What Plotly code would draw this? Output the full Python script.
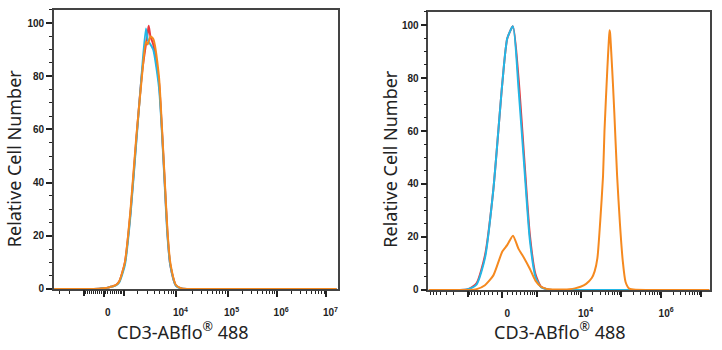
import numpy as np
import plotly.graph_objects as go

# ---------------- data (fluorescence intensity, relative count) ----------------
L_X = [-3800, -1100, -217, 0, 189, 325, 464, 606, 755, 1074, 1436, 1862, 2375, 2804,
       3004, 3141, 3378, 3792, 4789, 5388, 6063, 6829, 7698, 9809, 12539, 20000,
       100000, 1000000, 16000000]
L_RED = [0, 0, 0.1, 0.3, 0.5, 0.8, 1.1, 1.6, 2.8, 10, 29, 56, 81, 92,
         96, 99, 95, 92, 78, 61, 41, 21, 9, 1.3, 0.2, 0, 0, 0, 0]
L_CYAN = [0, 0, 0.1, 0.3, 0.5, 0.8, 1.0, 1.4, 2.4, 9, 28, 55, 82, 98,
          94, 93, 92, 90, 76, 60, 40, 20, 9, 1.2, 0.2, 0, 0, 0, 0]
L_ORANGE = [0, 0, 0.1, 0.3, 0.5, 0.8, 1.1, 1.6, 2.8, 10, 30, 57, 80, 93,
            92, 93, 95, 94, 80, 62, 42, 22, 10, 1.5, 0.2, 0, 0, 0, 0]

R_X = [-7700, -1500, -977, -628, -378, -183, 0, 101, 220, 350, 503, 688, 922, 1229,
       1635, 2184, 2933, 3953, 5360, 7300, 9972, 13669, 18773, 22070, 25824, 30350,
       35600, 38640, 45360, 49100, 51550, 53230, 57750, 62600, 67800, 79720, 93640,
       110130, 129400, 160000, 1000000, 16000000]
R_RED = [0, 0, 0.3, 2.5, 13, 38, 78, 95, 99.5, 80, 50, 21, 6, 1.2,
         0.3, 0, 0, 0, 0, 0, 0, 0, 0, 0, 0, 0,
         0, 0, 0, 0, 0, 0, 0, 0, 0, 0, 0,
         0, 0, 0, 0, 0]
R_CYAN = [0, 0, 0.3, 2, 12, 38, 78, 95, 99.5, 76, 47, 19, 5, 1,
          0.3, 0, 0, 0, 0, 0, 0, 0, 0, 0, 0, 0,
          0, 0, 0, 0, 0, 0, 0, 0, 0, 0, 0,
          0, 0, 0, 0, 0]
R_ORANGE = [0, 0, 0, 0.3, 1.8, 5.5, 14.5, 17, 20.5, 15.5, 12, 8, 3.5, 1.2,
            0.4, 0.2, 0.2, 0.2, 0.3, 0.6, 1.2, 2.3, 4.5, 7, 12, 26,
            43, 60, 83, 93, 98, 97, 88, 78, 67, 43, 25,
            11, 3, 0.5, 0, 0]

Y_TICKS = [0, 20, 40, 60, 80, 100]
L_LABEL_VALS = [0, 10000, 100000, 1000000, 10000000]
L_LABEL_TEXT = ["0", "10<sup>4</sup>", "10<sup>5</sup>", "10<sup>6</sup>", "10<sup>7</sup>"]
L_MAJOR_UNLABELED = [-1000, 1000]
R_LABEL_VALS = [0, 10000, 1000000]
R_LABEL_TEXT = ["0", "10<sup>4</sup>", "10<sup>6</sup>"]
R_MAJOR_UNLABELED = [-1000, 1000, 100000, 10000000]

X_TITLE = "CD3-ABflo<sup>®</sup> 488"
Y_TITLE = "Relative Cell Number"

RED, CYAN, ORANGE = "#e8383d", "#22b7e6", "#f5891f"


# ---------------- logicle scale ----------------
def make_logicle(T, W, M, A):
    ln10 = np.log(10.0)
    w = W / (M + A)
    x2 = A / (M + A)
    x1 = x2 + w
    x0 = x2 + 2 * w
    b = (M + A) * ln10
    lo, hi = 1e-9, b
    for _ in range(200):
        mid = 0.5 * (lo + hi)
        val = 2 * (np.log(mid) - np.log(b)) + w * (b + mid)
        if val > 0:
            hi = mid
        else:
            lo = mid
    d = 0.5 * (lo + hi)
    ca = np.exp(x0 * (b + d))
    mfa = np.exp(b * x1) - ca * np.exp(-d * x1)
    a = T / (np.exp(b) - mfa - ca * np.exp(-d))
    c = ca * a
    f = -mfa * a

    def S(y):
        y = np.asarray(y, float)
        yy = np.where(y >= x1, y, 2 * x1 - y)
        s = a * np.exp(b * yy) - c * np.exp(-d * yy) + f
        return np.where(y >= x1, s, -s)

    grid = np.linspace(-0.05, 1.05, 40001)
    vals = S(grid)

    def fwd(x):
        return np.interp(np.asarray(x, float), vals, grid)
    return fwd


TOP = 16777216
fL = make_logicle(TOP, 0.5, 5.24, 0.51)
fR = make_logicle(TOP, 0.5, 5.70, 1.35)


def minor_vals():
    v = []
    for e in [2, 3, 4, 5, 6]:
        for m in range(2, 10) if e >= 3 else range(1, 10):
            v.append(m * 10 ** e)
    neg = [-m * 10 ** e for e in [2, 3] for m in (range(1, 10) if e == 2 else range(2, 10))]
    return sorted(neg + v)


MINOR = minor_vals()

fig = go.Figure()
for xs, ys, col in [(L_X, L_RED, RED), (L_X, L_CYAN, CYAN), (L_X, L_ORANGE, ORANGE)]:
    fig.add_trace(go.Scatter(x=fL(xs), y=ys, mode="lines", xaxis="x", yaxis="y",
                             line=dict(color=col, width=2, shape="spline", smoothing=0.6),
                             showlegend=False, hoverinfo="skip"))
for xs, ys, col in [(R_X, R_RED, RED), (R_X, R_CYAN, CYAN), (R_X, R_ORANGE, ORANGE)]:
    fig.add_trace(go.Scatter(x=fR(xs), y=ys, mode="lines", xaxis="x2", yaxis="y2",
                             line=dict(color=col, width=2, shape="spline", smoothing=0.6),
                             showlegend=False, hoverinfo="skip"))
# invisible anchors for the overlay tick axes
fig.add_trace(go.Scatter(x=[0.5], y=[50], xaxis="x3", yaxis="y", mode="markers",
                         marker=dict(opacity=0), showlegend=False, hoverinfo="skip"))
fig.add_trace(go.Scatter(x=[0.5], y=[50], xaxis="x4", yaxis="y2", mode="markers",
                         marker=dict(opacity=0), showlegend=False, hoverinfo="skip"))

W_, H_ = 722, 350
tickfont = dict(family="Arial, Liberation Sans, sans-serif", size=10, color="#222222",
                weight="bold")


def xaxis_cfg(dom, fwd, tv, tt, shift):
    return dict(domain=dom, range=[0, 1], showgrid=False, zeroline=False,
                showline=True, linecolor="#444444", linewidth=1.5, mirror=True,
                tickmode="array", tickvals=list(fwd(tv)), ticktext=tt,
                ticks="outside", ticklen=6, tickwidth=2, tickcolor="#222222",
                ticklabelstandoff=7, ticklabelshift=shift, tickfont=tickfont,
                minor=dict(tickmode="array", tickvals=list(fwd(MINOR)), ticks="outside",
                           ticklen=3, tickwidth=1, tickcolor="#222222"))


def overlay_cfg(dom, fwd, tv, over, anchor):
    return dict(domain=dom, range=[0, 1], overlaying=over, anchor=anchor, side="bottom",
                showgrid=False, zeroline=False, showline=False, showticklabels=False,
                tickmode="array", tickvals=list(fwd(tv)), ticks="outside", ticklen=6,
                tickwidth=2, tickcolor="#222222")


def yaxis_cfg(dom, anchor):
    return dict(domain=dom, anchor=anchor, range=[0, 105], showgrid=False, zeroline=False,
                showline=True, linecolor="#444444", linewidth=1.5, mirror=True,
                tickmode="array", tickvals=Y_TICKS, ticks="outside", ticklen=6,
                tickwidth=2, tickcolor="#222222", ticksuffix="\u00a0\u00a0\u00a0\u00a0",
                tickfont=tickfont,
                minor=dict(dtick=5, ticks="outside", ticklen=3, tickwidth=1.2,
                           tickcolor="#222222"))


LD = [54 / W_, 338 / W_]
RD = [429 / W_, 711 / W_]
fig.update_layout(
    width=W_, height=H_, margin=dict(l=0, r=0, t=0, b=0),
    paper_bgcolor="white", plot_bgcolor="white",
    xaxis=dict(anchor="y", **xaxis_cfg(LD, fL, L_LABEL_VALS, L_LABEL_TEXT, 4)),
    yaxis=yaxis_cfg([1 - 294 / H_, 1 - 10 / H_], "x"),
    xaxis2=dict(anchor="y2", **xaxis_cfg(RD, fR, R_LABEL_VALS, R_LABEL_TEXT, 5)),
    yaxis2=yaxis_cfg([1 - 295 / H_, 1 - 12 / H_], "x2"),
    xaxis3=overlay_cfg(LD, fL, L_MAJOR_UNLABELED, "x", "y"),
    xaxis4=overlay_cfg(RD, fR, R_MAJOR_UNLABELED, "x2", "y2"),
)

title_font = dict(family="Noto Sans, Open Sans, sans-serif", size=18, color="#222222")
ann = []
for cx in [183, 561]:
    ann.append(dict(text=X_TITLE, x=cx / W_, y=1 - 337 / H_, xref="paper", yref="paper",
                    showarrow=False, font=title_font, xanchor="center", yanchor="middle"))
for cx in [14, 391]:
    ann.append(dict(text=Y_TITLE, x=cx / W_, y=1 - 161 / H_, xref="paper", yref="paper",
                    showarrow=False, font=title_font, textangle=-90,
                    xanchor="center", yanchor="middle"))
fig.update_layout(annotations=ann)

fig.write_html("out.html")
